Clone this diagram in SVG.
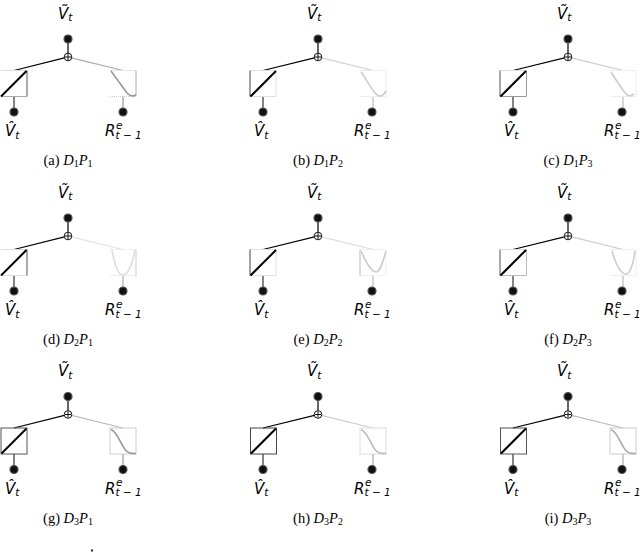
<svg xmlns="http://www.w3.org/2000/svg" width="640" height="552" viewBox="0 0 640 552">
<style>
.m{font-family:"DejaVu Sans",sans-serif;font-style:italic;font-size:15px;fill:#000}
.s{font-size:10.5px}
.cap{font-family:"Liberation Serif","Times New Roman",serif;font-size:14.5px;fill:#000}
.i{font-style:italic}
.sb{font-size:10px}
.dot{fill:#111;stroke:#555;stroke-width:1.2}
.sum{fill:#fff;stroke:#111;stroke-width:1}
.pl{stroke:#111;stroke-width:1}
.k{stroke:#000;stroke-width:1.2;fill:none}
.dg{stroke:#000;stroke-width:2;fill:none}
.e{fill:none;stroke-width:1}
.cv{fill:none;stroke-width:1.6}
</style>
<defs>
<g id="top">
<circle class="dot" cx="68" cy="39" r="4"/>
<circle class="sum" cx="68" cy="57" r="3.8"/>
<line class="pl" x1="65" y1="57" x2="71" y2="57"/>
<line class="pl" x1="68" y1="54" x2="68" y2="60"/>
</g>
<g id="labels">
<text class="m" x="58" y="18.5">Ṽ<tspan class="s" dy="2.5">t</tspan></text>
<text class="m" x="5" y="136">V&#x302;<tspan class="s" dy="2.5">t</tspan></text>
<text class="m" x="105" y="136">R</text>
<text class="m s" x="116" y="128.5">e</text>
<text class="m s" x="115.5" y="138.5">t − 1</text>
<circle class="dot" cx="14" cy="112" r="4"/>
<circle class="dot" cx="123" cy="112" r="4"/>
</g>
</defs>

<!-- Row 1 -->
<g id="panel-a">
<g id="a-connectors">
<line class="k" x1="68" y1="43" x2="68" y2="53.2"/>
<line class="k" x1="64.4" y1="57.9" x2="14" y2="70.5"/>
<line x1="71.6" y1="57.9" x2="123" y2="70.5" stroke="#aaa" stroke-width="1.2"/>
<line x1="14" y1="96.5" x2="14" y2="108" stroke="#333" stroke-width="1.2"/>
<line x1="123" y1="96.5" x2="123" y2="108" stroke="#999" stroke-width="1.2"/>
</g>
<g id="a-nodes"><use href="#top"/><use href="#labels"/></g>
<g id="a-f1">
<path class="e" d="M1,70.5H27" stroke="#ddd"/><path class="e" d="M27,70.5V96.5" stroke="#555"/><path class="e" d="M1,96.5H27" stroke="#aaa"/>
<line class="dg" x1="1" y1="96.5" x2="26.5" y2="71"/>
</g>
<g id="a-f2">
<path class="e" d="M110,70.5H136" stroke="#e5e5e5"/><path class="e" d="M136,70.5V96.5" stroke="#aaa"/><path class="e" d="M110,96.5H136" stroke="#ccc" stroke-dasharray="1 1"/>
<path class="cv" stroke="#999" d="M111,71 L127,93 Q131,97.5 136,95"/>
</g>
<text class="cap" x="68" y="165" text-anchor="middle">(a) <tspan class="i">D</tspan><tspan class="sb" dy="2">1</tspan><tspan class="i" dy="-2">P</tspan><tspan class="sb" dy="2">1</tspan></text>
</g>

<g id="panel-b" transform="translate(250,0)">
<g id="b-connectors">
<line class="k" x1="68" y1="43" x2="68" y2="53.2"/>
<line class="k" x1="64.4" y1="57.9" x2="13" y2="70.5"/>
<line x1="71.6" y1="57.9" x2="123" y2="70.5" stroke="#d0d0d0" stroke-width="1.2"/>
<line x1="13" y1="96.5" x2="13" y2="108" stroke="#333" stroke-width="1.2"/>
<line x1="123" y1="96.5" x2="123" y2="108" stroke="#bbb" stroke-width="1.2"/>
</g>
<g id="b-nodes"><use href="#top"/><use href="#labels" transform="translate(-1,0)"/></g>
<g id="b-f1">
<path class="e" d="M0,70.5H26V96.5H0" stroke="#e0e0e0"/><path class="e" d="M0,70.5V96.5" stroke="#444"/>
<line class="dg" x1="0.5" y1="96.5" x2="26" y2="71"/>
</g>
<g id="b-f2">
<path class="e" d="M110,70.5H136V96.5H110" stroke="#eee"/>
<path class="cv" stroke="#ccc" d="M111,72 C117,80 124,95 129,96 Q133,96.5 136,91"/>
</g>
<text class="cap" x="68" y="165" text-anchor="middle">(b) <tspan class="i">D</tspan><tspan class="sb" dy="2">1</tspan><tspan class="i" dy="-2">P</tspan><tspan class="sb" dy="2">2</tspan></text>
</g>

<g id="panel-c" transform="translate(500,0)">
<g id="c-connectors">
<line class="k" x1="68" y1="43" x2="68" y2="53.2"/>
<line class="k" x1="64.4" y1="57.9" x2="13" y2="70.5"/>
<line x1="71.6" y1="57.9" x2="123" y2="70.5" stroke="#ccc" stroke-width="1.2"/>
<line x1="13" y1="96.5" x2="13" y2="108" stroke="#333" stroke-width="1.2"/>
<line x1="123" y1="96.5" x2="123" y2="108" stroke="#bbb" stroke-width="1.2"/>
</g>
<g id="c-nodes"><use href="#top"/><use href="#labels" transform="translate(-1,0)"/></g>
<g id="c-f1">
<path class="e" d="M0,70.5H26.5" stroke="#ddd"/><path class="e" d="M0,70.5V96.5" stroke="#555"/><path class="e" d="M26.5,70.5V96.5M0,96.5H26.5" stroke="#999"/>
<line class="dg" x1="0.5" y1="96.5" x2="26" y2="71"/>
</g>
<g id="c-f2">
<path class="e" d="M110,70.5H136V96.5H110" stroke="#eee"/>
<path class="cv" stroke="#ccc" d="M111,72 C116,80 122,90 127,95 Q130,97 134,94"/>
</g>
<text class="cap" x="68" y="165" text-anchor="middle">(c) <tspan class="i">D</tspan><tspan class="sb" dy="2">1</tspan><tspan class="i" dy="-2">P</tspan><tspan class="sb" dy="2">3</tspan></text>
</g>

<!-- Row 2 -->
<g id="panel-d" transform="translate(0,179)">
<g id="d-connectors">
<line class="k" x1="68" y1="43" x2="68" y2="53.2"/>
<line class="k" x1="64.4" y1="57.9" x2="14" y2="70.5"/>
<line x1="71.6" y1="57.9" x2="123" y2="70.5" stroke="#e3e3e3" stroke-width="1.2"/>
<line x1="14" y1="96.5" x2="14" y2="108" stroke="#333" stroke-width="1.2"/>
<line x1="123" y1="96.5" x2="123" y2="108" stroke="#aaa" stroke-width="1.2"/>
</g>
<g id="d-nodes"><use href="#top"/><use href="#labels"/></g>
<g id="d-f1">
<path class="e" d="M1,70.5H27M1,96.5H27" stroke="#ddd"/><path class="e" d="M27,70.5V96.5" stroke="#555"/>
<line class="dg" x1="1" y1="96.5" x2="26.5" y2="71"/>
</g>
<g id="d-f2">
<path class="e" d="M110,70.5H136M110,96.5H136" stroke="#eee"/><path class="e" d="M136,70.5V96.5" stroke="#ccc"/>
<path class="cv" stroke="#ddd" d="M112,71 C115,88 119,96 123,96 C127,96 132,88 135,71"/>
</g>
<text class="cap" x="68" y="165" text-anchor="middle">(d) <tspan class="i">D</tspan><tspan class="sb" dy="2">2</tspan><tspan class="i" dy="-2">P</tspan><tspan class="sb" dy="2">1</tspan></text>
</g>

<g id="panel-e" transform="translate(250,179)">
<g id="e-connectors">
<line class="k" x1="68" y1="43" x2="68" y2="53.2"/>
<line class="k" x1="64.4" y1="57.9" x2="13" y2="70.5"/>
<line x1="71.6" y1="57.9" x2="123" y2="70.5" stroke="#ddd" stroke-width="1.2"/>
<line x1="13" y1="96.5" x2="13" y2="108" stroke="#333" stroke-width="1.2"/>
<line x1="123" y1="96.5" x2="123" y2="108" stroke="#bbb" stroke-width="1.2"/>
</g>
<g id="e-nodes"><use href="#top"/><use href="#labels" transform="translate(-1,0)"/></g>
<g id="e-f1">
<path class="e" d="M0,70.5H26V96.5H0" stroke="#e0e0e0"/><path class="e" d="M0,70.5V96.5" stroke="#444"/>
<line class="dg" x1="0.5" y1="96.5" x2="26" y2="71"/>
</g>
<g id="e-f2">
<path class="e" d="M110,70.5H136V96.5H110" stroke="#eee"/><path class="e" d="M110,70.5V96.5" stroke="#bbb"/>
<path class="cv" stroke="#ccc" d="M111,72 C116,83 121,93 126,93 C130,93 133,83 136,72"/>
</g>
<text class="cap" x="68" y="165" text-anchor="middle">(e) <tspan class="i">D</tspan><tspan class="sb" dy="2">2</tspan><tspan class="i" dy="-2">P</tspan><tspan class="sb" dy="2">2</tspan></text>
</g>

<g id="panel-f" transform="translate(500,179)">
<g id="f-connectors">
<line class="k" x1="68" y1="43" x2="68" y2="53.2"/>
<line class="k" x1="64.4" y1="57.9" x2="13" y2="70.5"/>
<line x1="71.6" y1="57.9" x2="123" y2="70.5" stroke="#ccc" stroke-width="1.2"/>
<line x1="13" y1="96.5" x2="13" y2="108" stroke="#333" stroke-width="1.2"/>
<line x1="123" y1="96.5" x2="123" y2="108" stroke="#bbb" stroke-width="1.2"/>
</g>
<g id="f-nodes"><use href="#top"/><use href="#labels" transform="translate(-1,0)"/></g>
<g id="f-f1">
<path class="e" d="M0,70.5H26.5" stroke="#ddd"/><path class="e" d="M0,70.5V96.5" stroke="#555"/><path class="e" d="M26.5,70.5V96.5M0,96.5H26.5" stroke="#bbb"/>
<line class="dg" x1="0.5" y1="96.5" x2="26" y2="71"/>
</g>
<g id="f-f2">
<path class="e" d="M110,70.5H136V96.5H110" stroke="#eee"/>
<path class="cv" stroke="#ccc" d="M112,72 C116,86 121,95 126,95 C130,95 133,86 135,72"/>
</g>
<text class="cap" x="68" y="165" text-anchor="middle">(f) <tspan class="i">D</tspan><tspan class="sb" dy="2">2</tspan><tspan class="i" dy="-2">P</tspan><tspan class="sb" dy="2">3</tspan></text>
</g>

<!-- Row 3 -->
<g id="panel-g" transform="translate(0,357.5)">
<g id="g-connectors">
<line class="k" x1="68" y1="43" x2="68" y2="53.2"/>
<line class="k" x1="64.4" y1="57.9" x2="14" y2="70.5"/>
<line x1="71.6" y1="57.9" x2="123" y2="70.5" stroke="#bbb" stroke-width="1.2"/>
<line x1="14" y1="96.5" x2="14" y2="108" stroke="#333" stroke-width="1.2"/>
<line x1="123" y1="96.5" x2="123" y2="108" stroke="#999" stroke-width="1.2"/>
</g>
<g id="g-nodes"><use href="#top"/><use href="#labels"/></g>
<g id="g-f1">
<rect class="e" x="1" y="70.5" width="26" height="26" stroke="#555"/>
<line class="dg" x1="1.5" y1="96" x2="26.5" y2="71"/>
</g>
<g id="g-f2">
<rect class="e" x="110" y="70.5" width="26" height="26" stroke="#ccc"/>
<path class="cv" stroke="#999" d="M111,72 C117,74 121,87 125,92 C128,96 131,96 136,96"/>
</g>
<text class="cap" x="68" y="165" text-anchor="middle">(g) <tspan class="i">D</tspan><tspan class="sb" dy="2">3</tspan><tspan class="i" dy="-2">P</tspan><tspan class="sb" dy="2">1</tspan></text>
</g>

<g id="panel-h" transform="translate(250,357.5)">
<g id="h-connectors">
<line class="k" x1="68" y1="43" x2="68" y2="53.2"/>
<line class="k" x1="64.4" y1="57.9" x2="13" y2="70.5"/>
<line x1="71.6" y1="57.9" x2="123" y2="70.5" stroke="#ccc" stroke-width="1.2"/>
<line x1="13" y1="96.5" x2="13" y2="108" stroke="#333" stroke-width="1.2"/>
<line x1="123" y1="96.5" x2="123" y2="108" stroke="#aaa" stroke-width="1.2"/>
</g>
<g id="h-nodes"><use href="#top"/><use href="#labels" transform="translate(-1,0)"/></g>
<g id="h-f1">
<rect class="e" x="0.5" y="70.5" width="26" height="26" stroke="#444"/>
<line class="dg" x1="1" y1="96" x2="26" y2="71"/>
</g>
<g id="h-f2">
<rect class="e" x="110" y="70.5" width="26" height="26" stroke="#ddd"/>
<path class="cv" stroke="#bbb" d="M111,72 C117,74 121,87 125,92 C128,96 131,96 136,96"/>
</g>
<text class="cap" x="68" y="165" text-anchor="middle">(h) <tspan class="i">D</tspan><tspan class="sb" dy="2">3</tspan><tspan class="i" dy="-2">P</tspan><tspan class="sb" dy="2">2</tspan></text>
</g>

<g id="panel-i" transform="translate(500,357.5)">
<g id="i-connectors">
<line class="k" x1="68" y1="43" x2="68" y2="53.2"/>
<line class="k" x1="64.4" y1="57.9" x2="13" y2="70.5"/>
<line x1="71.6" y1="57.9" x2="123" y2="70.5" stroke="#bbb" stroke-width="1.2"/>
<line x1="13" y1="96.5" x2="13" y2="108" stroke="#333" stroke-width="1.2"/>
<line x1="123" y1="96.5" x2="123" y2="108" stroke="#aaa" stroke-width="1.2"/>
</g>
<g id="i-nodes"><use href="#top"/><use href="#labels" transform="translate(-1,0)"/></g>
<g id="i-f1">
<rect class="e" x="0.5" y="70.5" width="26" height="26" stroke="#555"/>
<line class="dg" x1="1" y1="96" x2="26" y2="71"/>
</g>
<g id="i-f2">
<rect class="e" x="110" y="70.5" width="26" height="26" stroke="#ccc"/>
<path class="cv" stroke="#aaa" d="M111,72 C117,74 121,87 125,92 C128,96 131,96 136,96"/>
</g>
<text class="cap" x="68" y="165" text-anchor="middle">(i) <tspan class="i">D</tspan><tspan class="sb" dy="2">3</tspan><tspan class="i" dy="-2">P</tspan><tspan class="sb" dy="2">3</tspan></text>
</g>

<rect x="91" y="549.5" width="2" height="2" fill="#222"/>
</svg>
